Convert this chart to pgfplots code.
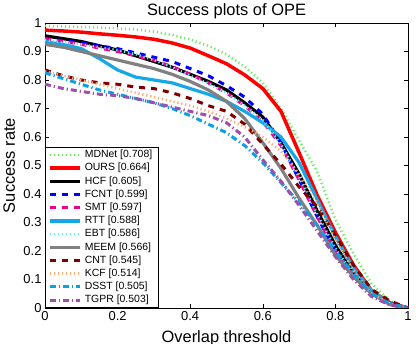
\documentclass[border=0pt]{standalone}
\usepackage{fontspec}
\setmainfont{Liberation Sans}
\usepackage{pgfplots}
\pgfplotsset{compat=1.18}
\definecolor{cMD}{RGB}{100,240,100}
\definecolor{cRTT}{RGB}{20,168,230}
\definecolor{cEBT}{RGB}{90,235,255}
\definecolor{cMEEM}{RGB}{128,128,128}
\definecolor{cCNT}{RGB}{128,0,0}
\definecolor{cKCF}{RGB}{250,170,120}
\definecolor{cDSST}{RGB}{10,160,225}
\definecolor{cTGPR}{RGB}{155,80,170}
\begin{document}
\begin{tikzpicture}
\useasboundingbox (-45bp,-36bp) rectangle (371bp,308bp);
\begin{axis}[
  at={(0,0)}, anchor=south west,
  width=363bp, height=285bp, scale only axis,
  xmin=0, xmax=1, ymin=0, ymax=1,
  xtick={0,0.2,0.4,0.6,0.8,1},
  xticklabels={0,0.2,0.4,0.6,0.8,1},
  ytick={0,0.1,0.2,0.3,0.4,0.5,0.6,0.7,0.8,0.9,1},
  yticklabels={0,0.1,0.2,0.3,0.4,0.5,0.6,0.7,0.8,0.9,1},
  tick align=inside, major tick length=4bp,
  axis line style={line width=0.6bp},
  every tick/.style={line width=0.6bp, black},
  tick label style={font=\fontsize{13}{13}\selectfont},
  /pgf/number format/assume math mode=true,
  title={Success plots of OPE},
  title style={font=\fontsize{16.5}{18}\selectfont, at={(axis description cs:0.5,1)}, anchor=base, yshift=2bp},
  xlabel={Overlap threshold},
  xlabel style={font=\fontsize{16.5}{18}\selectfont, at={(axis description cs:0.5,0)}, anchor=base, yshift=-34bp},
  ylabel={Success rate},
  ylabel style={font=\fontsize{16.5}{18}\selectfont, at={(axis description cs:0,0.5)}, anchor=base, yshift=30bp},
  legend image code/.code={\draw[#1] (0bp,0bp) -- (30bp,0bp);},
  legend cell align=left,
  legend style={at={(axis description cs:0,0)}, anchor=south west,
    font=\fontsize{10.5}{12}\selectfont, draw=black, line width=0.6bp,
    inner xsep=3bp, inner ysep=1bp, row sep=0pt,
    nodes={inner xsep=3bp, inner ysep=1.5bp, text height=7.8bp, text depth=2.4bp}},
]
\addplot[cMD, line width=2.5bp, dash pattern=on 1.2bp off 2.8bp] coordinates {
(0,.99)(.05,.988)(.1,.986)(.15,.984)(.2,.981)(.25,.977)(.3,.97)(.35,.958)(.4,.942)(.45,.92)(.5,.89)(.55,.847)(.6,.79)(.65,.70)(.7,.588)(.75,.478)(.8,.31)(.85,.19)(.9,.085)(.95,.025)(1,0)};
\addlegendentry{MDNet [0.708]}
\addplot[red, line width=3.5bp] coordinates {
(0,.975)(.05,.972)(.1,.968)(.15,.962)(.2,.957)(.25,.951)(.3,.943)(.35,.93)(.4,.912)(.45,.885)(.5,.857)(.55,.818)(.6,.77)(.65,.69)(.7,.545)(.75,.395)(.8,.265)(.85,.15)(.9,.06)(.95,.018)(1,0)};
\addlegendentry{OURS [0.664]}
\addplot[black, line width=3.2bp] coordinates {
(0,.955)(.05,.945)(.1,.935)(.15,.92)(.2,.905)(.25,.885)(.3,.865)(.35,.845)(.4,.82)(.45,.795)(.5,.765)(.55,.72)(.6,.67)(.65,.58)(.7,.47)(.75,.34)(.8,.22)(.85,.12)(.9,.055)(.95,.015)(1,0)};
\addlegendentry{HCF [0.605]}
\addplot[blue, line width=3bp, dash pattern=on 6bp off 6bp] coordinates {
(0,.945)(.05,.938)(.1,.93)(.15,.92)(.2,.91)(.25,.895)(.3,.88)(.35,.865)(.4,.84)(.45,.815)(.5,.78)(.55,.74)(.6,.68)(.65,.58)(.7,.45)(.75,.32)(.8,.20)(.85,.11)(.9,.05)(.95,.015)(1,0)};
\addlegendentry{FCNT [0.599]}
\addplot[magenta, line width=3bp, dash pattern=on 6bp off 6bp] coordinates {
(0,.945)(.05,.935)(.1,.925)(.15,.912)(.2,.90)(.25,.885)(.3,.87)(.35,.847)(.4,.82)(.45,.79)(.5,.755)(.55,.71)(.6,.655)(.65,.57)(.7,.45)(.75,.32)(.8,.20)(.85,.11)(.9,.05)(.95,.015)(1,0)};
\addlegendentry{SMT [0.597]}
\addplot[cRTT, line width=3.2bp] coordinates {
(0,.935)(.05,.925)(.1,.91)(.15,.875)(.2,.835)(.25,.81)(.3,.80)(.35,.79)(.4,.77)(.45,.75)(.5,.725)(.55,.69)(.6,.65)(.65,.60)(.7,.51)(.75,.38)(.8,.25)(.85,.14)(.9,.06)(.95,.015)(1,0)};
\addlegendentry{RTT [0.588]}
\addplot[cEBT, line width=2.5bp, dash pattern=on 1.2bp off 2.8bp] coordinates {
(0,.94)(.05,.932)(.1,.925)(.15,.915)(.2,.905)(.25,.89)(.3,.87)(.35,.845)(.4,.815)(.45,.787)(.5,.755)(.55,.71)(.6,.66)(.65,.575)(.7,.46)(.75,.33)(.8,.21)(.85,.115)(.9,.05)(.95,.015)(1,0)};
\addlegendentry{EBT [0.586]}
\addplot[cMEEM, line width=3.2bp] coordinates {
(0,.925)(.05,.915)(.1,.90)(.15,.885)(.2,.87)(.25,.855)(.3,.84)(.35,.82)(.4,.795)(.45,.765)(.5,.725)(.55,.665)(.6,.58)(.65,.49)(.7,.385)(.75,.29)(.8,.185)(.85,.11)(.9,.05)(.95,.012)(1,0)};
\addlegendentry{MEEM [0.566]}
\addplot[cCNT, line width=3bp, dash pattern=on 6bp off 6bp] coordinates {
(0,.835)(.05,.815)(.1,.80)(.15,.79)(.2,.785)(.25,.775)(.3,.77)(.35,.755)(.4,.735)(.45,.71)(.5,.69)(.55,.645)(.6,.575)(.65,.505)(.7,.425)(.75,.355)(.8,.255)(.85,.15)(.9,.065)(.95,.025)(1,0)};
\addlegendentry{CNT [0.545]}
\addplot[cKCF, line width=2.5bp, dash pattern=on 1.2bp off 2.8bp] coordinates {
(0,.83)(.05,.815)(.1,.80)(.15,.785)(.2,.77)(.25,.755)(.3,.74)(.35,.725)(.4,.71)(.45,.69)(.5,.665)(.55,.635)(.6,.60)(.65,.55)(.7,.47)(.75,.37)(.8,.24)(.85,.13)(.9,.05)(.95,.015)(1,0)};
\addlegendentry{KCF [0.514]}
\addplot[cDSST, line width=3bp, dash pattern=on 6bp off 3bp on 1.2bp off 3bp] coordinates {
(0,.825)(.05,.805)(.1,.785)(.15,.765)(.2,.75)(.25,.735)(.3,.72)(.35,.70)(.4,.675)(.45,.645)(.5,.615)(.55,.57)(.6,.51)(.65,.44)(.7,.37)(.75,.29)(.8,.20)(.85,.12)(.9,.05)(.95,.015)(1,0)};
\addlegendentry{DSST [0.505]}
\addplot[cTGPR, line width=3bp, dash pattern=on 6bp off 3bp on 1.2bp off 3bp] coordinates {
(0,.785)(.05,.77)(.1,.76)(.15,.75)(.2,.745)(.25,.735)(.3,.72)(.35,.705)(.4,.69)(.45,.675)(.5,.65)(.55,.60)(.6,.52)(.65,.445)(.7,.36)(.75,.27)(.8,.18)(.85,.10)(.9,.04)(.95,.01)(1,0)};
\addlegendentry{TGPR [0.503]}
\end{axis}
\end{tikzpicture}
\end{document}
